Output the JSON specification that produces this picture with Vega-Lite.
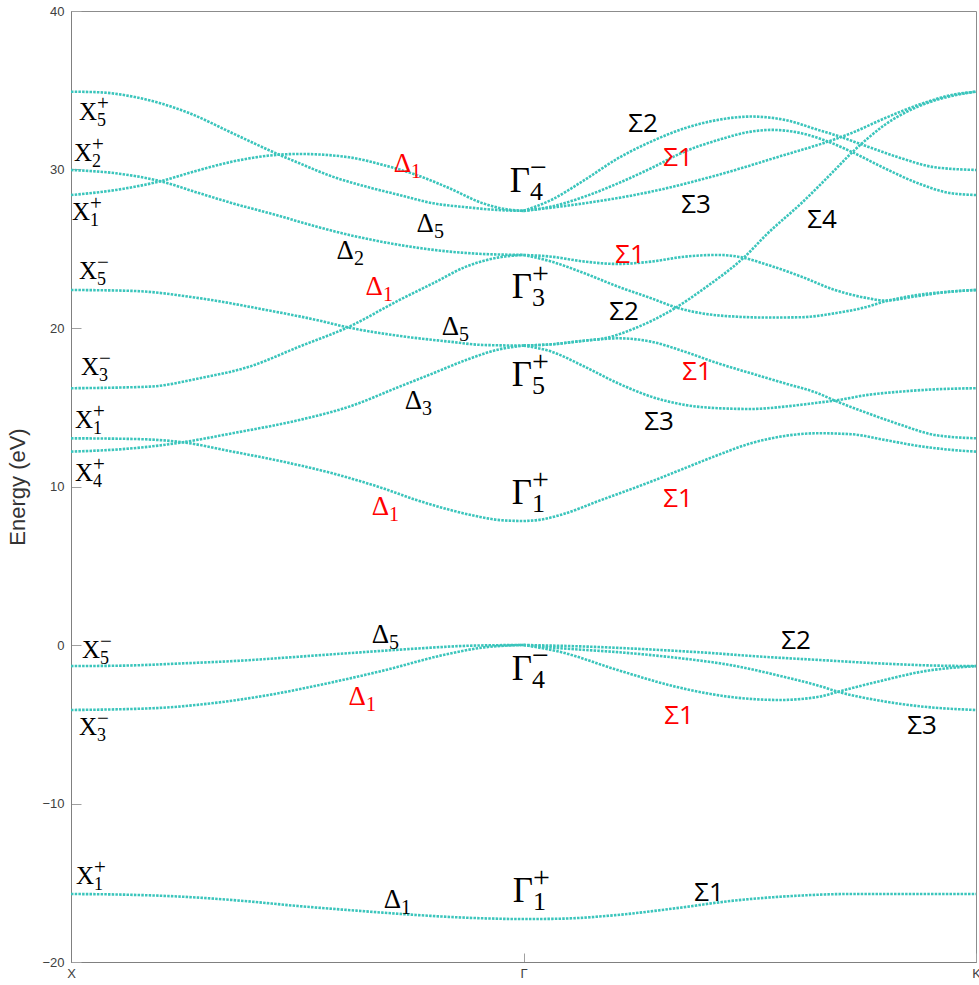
{
  "$schema": "https://vega.github.io/schema/vega-lite/v6.json",
  "width": 905,
  "height": 951,
  "autosize": {"type": "none"},
  "padding": {"left": 71, "top": 11, "right": 3, "bottom": 23},
  "background": "white",
  "config": {"view": {"stroke": "#8c8c8c", "strokeWidth": 1}},
  "datasets": {
    "bands": [
      {"b":"A","k":0,"E":34.91},{"b":"A","k":0.063,"E":34.87},{"b":"A","k":0.136,"E":34.6},{"b":"A","k":0.195,"E":34.2},{"b":"A","k":0.262,"E":33.55},{"b":"A","k":0.357,"E":32.29},{"b":"A","k":0.453,"E":31.02},{"b":"A","k":0.505,"E":30.39},{"b":"A","k":0.578,"E":29.55},{"b":"A","k":0.652,"E":28.92},{"b":"A","k":0.726,"E":28.39},{"b":"A","k":0.8,"E":27.87},{"b":"A","k":0.873,"E":27.62},{"b":"A","k":0.94,"E":27.45},{"b":"A","k":1,"E":27.39},
      {"b":"B","k":0,"E":28.39},{"b":"B","k":0.0995,"E":28.71},{"b":"B","k":0.195,"E":29.24},{"b":"B","k":0.284,"E":29.97},{"b":"B","k":0.357,"E":30.5},{"b":"B","k":0.453,"E":30.92},{"b":"B","k":0.505,"E":30.98},{"b":"B","k":0.615,"E":30.77},{"b":"B","k":0.689,"E":30.29},{"b":"B","k":0.763,"E":29.66},{"b":"B","k":0.836,"E":28.82},{"b":"B","k":0.91,"E":27.87},{"b":"B","k":0.96,"E":27.5},{"b":"B","k":1,"E":27.39},
      {"b":"C","k":0,"E":29.97},{"b":"C","k":0.0995,"E":29.76},{"b":"C","k":0.195,"E":29.28},{"b":"C","k":0.284,"E":28.5},{"b":"C","k":0.357,"E":27.87},{"b":"C","k":0.453,"E":27.13},{"b":"C","k":0.542,"E":26.4},{"b":"C","k":0.615,"E":25.87},{"b":"C","k":0.726,"E":25.24},{"b":"C","k":0.836,"E":24.82},{"b":"C","k":0.91,"E":24.67},{"b":"C","k":1,"E":24.61},
      {"b":"D","k":0,"E":22.4},{"b":"D","k":0.136,"E":22.34},{"b":"D","k":0.284,"E":21.88},{"b":"D","k":0.431,"E":21.14},{"b":"D","k":0.542,"E":20.51},{"b":"D","k":0.615,"E":20.02},{"b":"D","k":0.726,"E":19.5},{"b":"D","k":0.836,"E":19.14},{"b":"D","k":0.91,"E":18.93},{"b":"D","k":1,"E":18.89},
      {"b":"E","k":0,"E":16.2},{"b":"E","k":0.173,"E":16.3},{"b":"E","k":0.284,"E":16.83},{"b":"E","k":0.394,"E":17.56},{"b":"E","k":0.505,"E":18.83},{"b":"E","k":0.615,"E":20.09},{"b":"E","k":0.726,"E":21.77},{"b":"E","k":0.8,"E":22.82},{"b":"E","k":0.873,"E":23.87},{"b":"E","k":0.947,"E":24.46},{"b":"E","k":1,"E":24.61},
      {"b":"F","k":0,"E":13.04},{"b":"F","k":0.136,"E":13.0},{"b":"F","k":0.247,"E":12.79},{"b":"F","k":0.357,"E":12.2},{"b":"F","k":0.468,"E":11.57},{"b":"F","k":0.578,"E":10.83},{"b":"F","k":0.689,"E":9.89},{"b":"F","k":0.763,"E":9.15},{"b":"F","k":0.838,"E":8.52},{"b":"F","k":0.904,"E":8.08},{"b":"F","k":0.948,"E":7.88},{"b":"F","k":1,"E":7.82},
      {"b":"G","k":0,"E":12.2},{"b":"G","k":0.136,"E":12.41},{"b":"G","k":0.247,"E":12.79},{"b":"G","k":0.357,"E":13.36},{"b":"G","k":0.505,"E":14.2},{"b":"G","k":0.615,"E":15.04},{"b":"G","k":0.726,"E":16.3},{"b":"G","k":0.8,"E":17.14},{"b":"G","k":0.873,"E":17.98},{"b":"G","k":0.947,"E":18.66},{"b":"G","k":1,"E":18.89},
      {"b":"V1","k":0,"E":-1.33},{"b":"V1","k":0.117,"E":-1.3},{"b":"V1","k":0.246,"E":-1.16},{"b":"V1","k":0.374,"E":-0.99},{"b":"V1","k":0.502,"E":-0.74},{"b":"V1","k":0.631,"E":-0.48},{"b":"V1","k":0.761,"E":-0.23},{"b":"V1","k":0.887,"E":-0.04},{"b":"V1","k":1,"E":0},
      {"b":"V2","k":0,"E":-4.1},{"b":"V2","k":0.181,"E":-3.99},{"b":"V2","k":0.31,"E":-3.68},{"b":"V2","k":0.438,"E":-3.15},{"b":"V2","k":0.566,"E":-2.42},{"b":"V2","k":0.695,"E":-1.58},{"b":"V2","k":0.823,"E":-0.63},{"b":"V2","k":0.913,"E":-0.15},{"b":"V2","k":1,"E":0},
      {"b":"L","k":0,"E":-15.71},{"b":"L","k":0.117,"E":-15.75},{"b":"L","k":0.246,"E":-15.88},{"b":"L","k":0.374,"E":-16.13},{"b":"L","k":0.502,"E":-16.47},{"b":"L","k":0.631,"E":-16.76},{"b":"L","k":0.761,"E":-17.03},{"b":"L","k":0.887,"E":-17.22},{"b":"L","k":1,"E":-17.29},{"b":"L","k":1.079,"E":-17.27},{"b":"L","k":1.208,"E":-17.03},{"b":"L","k":1.336,"E":-16.61},{"b":"L","k":1.464,"E":-16.13},{"b":"L","k":1.592,"E":-15.84},{"b":"L","k":1.72,"E":-15.71},{"b":"L","k":1.849,"E":-15.71},{"b":"L","k":2,"E":-15.71},
      {"b":"R1","k":1,"E":27.39},{"b":"R1","k":1.0615,"E":28.08},{"b":"R1","k":1.135,"E":29.34},{"b":"R1","k":1.209,"E":30.71},{"b":"R1","k":1.282,"E":31.76},{"b":"R1","k":1.356,"E":32.6},{"b":"R1","k":1.43,"E":33.13},{"b":"R1","k":1.503,"E":33.34},{"b":"R1","k":1.577,"E":33.13},{"b":"R1","k":1.651,"E":32.5},{"b":"R1","k":1.688,"E":32.18},{"b":"R1","k":1.761,"E":31.44},{"b":"R1","k":1.835,"E":30.71},{"b":"R1","k":1.909,"E":30.14},{"b":"R1","k":2,"E":29.97},
      {"b":"R2","k":1,"E":27.39},{"b":"R2","k":1.0615,"E":27.66},{"b":"R2","k":1.135,"E":28.29},{"b":"R2","k":1.209,"E":29.13},{"b":"R2","k":1.282,"E":30.08},{"b":"R2","k":1.356,"E":31.13},{"b":"R2","k":1.43,"E":31.86},{"b":"R2","k":1.503,"E":32.39},{"b":"R2","k":1.548,"E":32.5},{"b":"R2","k":1.614,"E":32.29},{"b":"R2","k":1.673,"E":31.76},{"b":"R2","k":1.724,"E":31.13},{"b":"R2","k":1.798,"E":30.08},{"b":"R2","k":1.872,"E":29.13},{"b":"R2","k":1.946,"E":28.5},{"b":"R2","k":2,"E":28.39},
      {"b":"R3","k":1,"E":27.39},{"b":"R3","k":1.135,"E":27.87},{"b":"R3","k":1.282,"E":28.6},{"b":"R3","k":1.43,"E":29.66},{"b":"R3","k":1.577,"E":30.92},{"b":"R3","k":1.673,"E":31.76},{"b":"R3","k":1.724,"E":32.29},{"b":"R3","k":1.798,"E":33.23},{"b":"R3","k":1.872,"E":34.07},{"b":"R3","k":1.946,"E":34.7},{"b":"R3","k":2,"E":34.91},
      {"b":"R4","k":1,"E":18.89},{"b":"R4","k":1.0615,"E":18.97},{"b":"R4","k":1.135,"E":19.2},{"b":"R4","k":1.179,"E":19.35},{"b":"R4","k":1.246,"E":19.98},{"b":"R4","k":1.334,"E":21.24},{"b":"R4","k":1.4,"E":22.51},{"b":"R4","k":1.489,"E":24.5},{"b":"R4","k":1.54,"E":25.98},{"b":"R4","k":1.614,"E":27.87},{"b":"R4","k":1.688,"E":29.97},{"b":"R4","k":1.724,"E":31.02},{"b":"R4","k":1.761,"E":31.97},{"b":"R4","k":1.798,"E":32.81},{"b":"R4","k":1.872,"E":33.97},{"b":"R4","k":1.946,"E":34.64},{"b":"R4","k":2,"E":34.91},
      {"b":"R5","k":1,"E":18.89},{"b":"R5","k":1.0615,"E":18.97},{"b":"R5","k":1.135,"E":19.2},{"b":"R5","k":1.209,"E":19.35},{"b":"R5","k":1.282,"E":19.14},{"b":"R5","k":1.356,"E":18.51},{"b":"R5","k":1.43,"E":17.77},{"b":"R5","k":1.503,"E":17.14},{"b":"R5","k":1.577,"E":16.51},{"b":"R5","k":1.651,"E":15.88},{"b":"R5","k":1.688,"E":15.42},{"b":"R5","k":1.761,"E":14.62},{"b":"R5","k":1.835,"E":13.88},{"b":"R5","k":1.909,"E":13.25},{"b":"R5","k":2,"E":13.04},
      {"b":"R6","k":1,"E":18.89},{"b":"R6","k":1.0615,"E":18.51},{"b":"R6","k":1.135,"E":17.56},{"b":"R6","k":1.209,"E":16.51},{"b":"R6","k":1.282,"E":15.67},{"b":"R6","k":1.356,"E":15.15},{"b":"R6","k":1.43,"E":14.94},{"b":"R6","k":1.503,"E":14.89},{"b":"R6","k":1.577,"E":15.04},{"b":"R6","k":1.651,"E":15.29},{"b":"R6","k":1.688,"E":15.42},{"b":"R6","k":1.761,"E":15.78},{"b":"R6","k":1.835,"E":15.99},{"b":"R6","k":1.909,"E":16.13},{"b":"R6","k":2,"E":16.2},
      {"b":"R7","k":1,"E":24.61},{"b":"R7","k":1.0615,"E":24.5},{"b":"R7","k":1.135,"E":24.19},{"b":"R7","k":1.209,"E":24.04},{"b":"R7","k":1.282,"E":24.19},{"b":"R7","k":1.356,"E":24.5},{"b":"R7","k":1.43,"E":24.61},{"b":"R7","k":1.474,"E":24.5},{"b":"R7","k":1.54,"E":23.98},{"b":"R7","k":1.614,"E":23.24},{"b":"R7","k":1.688,"E":22.4},{"b":"R7","k":1.761,"E":21.88},{"b":"R7","k":1.798,"E":21.73},{"b":"R7","k":1.872,"E":22.02},{"b":"R7","k":1.946,"E":22.3},{"b":"R7","k":2,"E":22.4},
      {"b":"R8","k":1,"E":24.61},{"b":"R8","k":1.0615,"E":24.19},{"b":"R8","k":1.135,"E":23.45},{"b":"R8","k":1.209,"E":22.61},{"b":"R8","k":1.282,"E":21.88},{"b":"R8","k":1.338,"E":21.29},{"b":"R8","k":1.393,"E":20.93},{"b":"R8","k":1.467,"E":20.72},{"b":"R8","k":1.54,"E":20.66},{"b":"R8","k":1.614,"E":20.68},{"b":"R8","k":1.688,"E":20.93},{"b":"R8","k":1.761,"E":21.35},{"b":"R8","k":1.798,"E":21.67},{"b":"R8","k":1.872,"E":22.09},{"b":"R8","k":1.946,"E":22.3},{"b":"R8","k":2,"E":22.4},
      {"b":"R9","k":1,"E":7.82},{"b":"R9","k":1.04,"E":7.92},{"b":"R9","k":1.081,"E":8.2},{"b":"R9","k":1.172,"E":9.15},{"b":"R9","k":1.282,"E":10.31},{"b":"R9","k":1.356,"E":11.15},{"b":"R9","k":1.43,"E":11.99},{"b":"R9","k":1.503,"E":12.73},{"b":"R9","k":1.577,"E":13.19},{"b":"R9","k":1.651,"E":13.36},{"b":"R9","k":1.724,"E":13.3},{"b":"R9","k":1.798,"E":12.94},{"b":"R9","k":1.872,"E":12.56},{"b":"R9","k":1.946,"E":12.31},{"b":"R9","k":2,"E":12.2},
      {"b":"V3","k":1,"E":0},{"b":"V3","k":1.144,"E":-0.105},{"b":"V3","k":1.272,"E":-0.27},{"b":"V3","k":1.4,"E":-0.48},{"b":"V3","k":1.528,"E":-0.74},{"b":"V3","k":1.656,"E":-0.95},{"b":"V3","k":1.785,"E":-1.16},{"b":"V3","k":1.913,"E":-1.3},{"b":"V3","k":2,"E":-1.33},
      {"b":"V4","k":1,"E":0},{"b":"V4","k":1.079,"E":-0.2},{"b":"V4","k":1.208,"E":-0.45},{"b":"V4","k":1.336,"E":-0.8},{"b":"V4","k":1.464,"E":-1.3},{"b":"V4","k":1.567,"E":-1.95},{"b":"V4","k":1.656,"E":-2.6},{"b":"V4","k":1.695,"E":-2.95},{"b":"V4","k":1.785,"E":-3.5},{"b":"V4","k":1.887,"E":-3.9},{"b":"V4","k":2,"E":-4.1},
      {"b":"V5","k":1,"E":0},{"b":"V5","k":1.079,"E":-0.42},{"b":"V5","k":1.208,"E":-1.58},{"b":"V5","k":1.336,"E":-2.63},{"b":"V5","k":1.464,"E":-3.3},{"b":"V5","k":1.567,"E":-3.47},{"b":"V5","k":1.656,"E":-3.25},{"b":"V5","k":1.695,"E":-2.95},{"b":"V5","k":1.785,"E":-2.3},{"b":"V5","k":1.887,"E":-1.65},{"b":"V5","k":2,"E":-1.33}
    ],
    "labels": [
      {"t":"X","base":"X","sub":"5","sup":"+","k":0.0575,"E":33.63,"hl":"n"},
      {"t":"X","base":"X","sub":"2","sup":"+","k":0.0464,"E":31.04,"hl":"n"},
      {"t":"X","base":"X","sub":"1","sup":"+","k":0.042,"E":27.35,"hl":"n"},
      {"t":"X","base":"X","sub":"5","sup":"−","k":0.0575,"E":23.6,"hl":"n"},
      {"t":"X","base":"X","sub":"3","sup":"−","k":0.0619,"E":17.54,"hl":"n"},
      {"t":"X","base":"X","sub":"1","sup":"+","k":0.0486,"E":14.2,"hl":"n"},
      {"t":"X","base":"X","sub":"4","sup":"+","k":0.0486,"E":10.85,"hl":"n"},
      {"t":"X","base":"X","sub":"5","sup":"−","k":0.0641,"E":-0.32,"hl":"n"},
      {"t":"X","base":"X","sub":"3","sup":"−","k":0.0575,"E":-5.17,"hl":"n"},
      {"t":"X","base":"X","sub":"1","sup":"+","k":0.0508,"E":-14.57,"hl":"n"},
      {"t":"G","base":"Γ","sub":"4","sup":"−","k":1.0144,"E":29.27,"hl":"n"},
      {"t":"G","base":"Γ","sub":"3","sup":"+","k":1.0188,"E":22.59,"hl":"n"},
      {"t":"G","base":"Γ","sub":"5","sup":"+","k":1.0188,"E":17.03,"hl":"n"},
      {"t":"G","base":"Γ","sub":"1","sup":"+","k":1.0188,"E":9.59,"hl":"n"},
      {"t":"G","base":"Γ","sub":"4","sup":"−","k":1.0188,"E":-1.5,"hl":"n"},
      {"t":"G","base":"Γ","sub":"1","sup":"+","k":1.021,"E":-15.52,"hl":"n"},
      {"t":"D","base":"Δ","sub":"1","sup":"","k":0.7514,"E":30.35,"hl":"y"},
      {"t":"D","base":"Δ","sub":"5","sup":"","k":0.8022,"E":26.56,"hl":"n"},
      {"t":"D","base":"Δ","sub":"2","sup":"","k":0.6254,"E":24.86,"hl":"n"},
      {"t":"D","base":"Δ","sub":"1","sup":"","k":0.6895,"E":22.59,"hl":"y"},
      {"t":"D","base":"Δ","sub":"5","sup":"","k":0.8575,"E":20.06,"hl":"n"},
      {"t":"D","base":"Δ","sub":"3","sup":"","k":0.7757,"E":15.39,"hl":"n"},
      {"t":"D","base":"Δ","sub":"1","sup":"","k":0.7028,"E":8.71,"hl":"y"},
      {"t":"D","base":"Δ","sub":"5","sup":"","k":0.7028,"E":0.63,"hl":"n"},
      {"t":"D","base":"Δ","sub":"1","sup":"","k":0.6519,"E":-3.28,"hl":"y"},
      {"t":"D","base":"Δ","sub":"1","sup":"","k":0.7293,"E":-16.09,"hl":"n"},
      {"t":"S","base":"Σ2","sub":"","sup":"","k":1.2641,"E":32.87,"hl":"n"},
      {"t":"S","base":"Σ1","sub":"","sup":"","k":1.3414,"E":30.73,"hl":"y"},
      {"t":"S","base":"Σ3","sub":"","sup":"","k":1.3812,"E":27.76,"hl":"n"},
      {"t":"S","base":"Σ4","sub":"","sup":"","k":1.6597,"E":26.81,"hl":"n"},
      {"t":"S","base":"Σ1","sub":"","sup":"","k":1.2354,"E":24.61,"hl":"y"},
      {"t":"S","base":"Σ2","sub":"","sup":"","k":1.2221,"E":21.01,"hl":"n"},
      {"t":"S","base":"Σ1","sub":"","sup":"","k":1.3834,"E":17.22,"hl":"y"},
      {"t":"S","base":"Σ3","sub":"","sup":"","k":1.2994,"E":14.07,"hl":"n"},
      {"t":"S","base":"Σ1","sub":"","sup":"","k":1.3414,"E":9.21,"hl":"y"},
      {"t":"S","base":"Σ2","sub":"","sup":"","k":1.6022,"E":0.25,"hl":"n"},
      {"t":"S","base":"Σ1","sub":"","sup":"","k":1.3436,"E":-4.48,"hl":"y"},
      {"t":"S","base":"Σ3","sub":"","sup":"","k":1.8807,"E":-5.11,"hl":"n"},
      {"t":"S","base":"Σ1","sub":"","sup":"","k":1.4099,"E":-15.65,"hl":"n"}
    ]
  },
  "layer": [
    {
      "data": {"name": "bands"},
      "mark": {"type": "line", "interpolate": "monotone", "color": "#3bc5bc", "strokeWidth": 2.6, "strokeDash": [2.5, 1.2]},
      "encoding": {
        "x": {"field": "k", "type": "quantitative", "scale": {"domain": [0, 2], "nice": false, "zero": false},
          "axis": {"values": [0, 1, 2], "labelExpr": "datum.value == 0 ? 'X' : datum.value == 1 ? 'Γ' : 'K'", "title": null, "grid": false,
            "domainColor": "#808080", "tickColor": "#a0a0a0", "tickSize": -9, "labelPadding": 14, "labelFont": "Liberation Sans", "labelFontSize": 13, "labelColor": "#404040", "labelFlush": false}},
        "y": {"field": "E", "type": "quantitative", "scale": {"domain": [-20, 40], "nice": false, "zero": false},
          "axis": {"values": [-20, -10, 0, 10, 20, 30, 40], "title": "Energy (eV)", "grid": false,
            "domainColor": "#808080", "tickColor": "#a0a0a0", "tickSize": -10, "labelPadding": 17, "labelFont": "Liberation Sans", "labelFontSize": 13, "labelColor": "#404040", "labelFlush": false,
            "titleFont": "Liberation Sans", "titleFontSize": 22, "titleFontWeight": "normal", "titleColor": "#333333", "titlePadding": 12}},
        "detail": {"field": "b", "type": "nominal"}
      }
    },
    {
      "data": {"name": "labels"},
      "transform": [{"filter": "datum.t == 'X'"}],
      "mark": {"type": "text", "align": "right", "baseline": "middle", "font": "Liberation Serif", "fontSize": 25, "color": "#000000"},
      "encoding": {"x": {"field": "k", "type": "quantitative"}, "y": {"field": "E", "type": "quantitative"}, "text": {"field": "base"}}
    },
    {
      "data": {"name": "labels"},
      "transform": [{"filter": "datum.t == 'X'"}],
      "mark": {"type": "text", "align": "left", "baseline": "middle", "font": "Liberation Serif", "fontSize": 18, "color": "#000000", "dx": 0, "dy": 9},
      "encoding": {"x": {"field": "k", "type": "quantitative"}, "y": {"field": "E", "type": "quantitative"}, "text": {"field": "sub"}}
    },
    {
      "data": {"name": "labels"},
      "transform": [{"filter": "datum.t == 'X'"}],
      "mark": {"type": "text", "align": "left", "baseline": "middle", "font": "Liberation Serif", "fontSize": 21, "color": "#000000", "dx": 0, "dy": -8},
      "encoding": {"x": {"field": "k", "type": "quantitative"}, "y": {"field": "E", "type": "quantitative"}, "text": {"field": "sup"}}
    },
    {
      "data": {"name": "labels"},
      "transform": [{"filter": "datum.t == 'G'"}],
      "mark": {"type": "text", "align": "right", "baseline": "middle", "font": "Liberation Serif", "fontSize": 35, "color": "#000000"},
      "encoding": {"x": {"field": "k", "type": "quantitative"}, "y": {"field": "E", "type": "quantitative"}, "text": {"field": "base"}}
    },
    {
      "data": {"name": "labels"},
      "transform": [{"filter": "datum.t == 'G'"}],
      "mark": {"type": "text", "align": "left", "baseline": "middle", "font": "Liberation Serif", "fontSize": 26, "color": "#000000", "dx": 0, "dy": 11},
      "encoding": {"x": {"field": "k", "type": "quantitative"}, "y": {"field": "E", "type": "quantitative"}, "text": {"field": "sub"}}
    },
    {
      "data": {"name": "labels"},
      "transform": [{"filter": "datum.t == 'G'"}],
      "mark": {"type": "text", "align": "left", "baseline": "middle", "font": "Liberation Serif", "fontSize": 30, "color": "#000000", "dx": 0, "dy": -13},
      "encoding": {"x": {"field": "k", "type": "quantitative"}, "y": {"field": "E", "type": "quantitative"}, "text": {"field": "sup"}}
    },
    {
      "data": {"name": "labels"},
      "transform": [{"filter": "datum.t == 'D'"}],
      "mark": {"type": "text", "align": "right", "baseline": "middle", "font": "Liberation Serif", "fontSize": 27},
      "encoding": {"x": {"field": "k", "type": "quantitative"}, "y": {"field": "E", "type": "quantitative"}, "text": {"field": "base"},
        "color": {"field": "hl", "type": "nominal", "scale": {"domain": ["n", "y"], "range": ["#000000", "#ff0000"]}, "legend": null}}
    },
    {
      "data": {"name": "labels"},
      "transform": [{"filter": "datum.t == 'D'"}],
      "mark": {"type": "text", "align": "left", "baseline": "middle", "font": "Liberation Serif", "fontSize": 20, "dx": 0, "dy": 8},
      "encoding": {"x": {"field": "k", "type": "quantitative"}, "y": {"field": "E", "type": "quantitative"}, "text": {"field": "sub"},
        "color": {"field": "hl", "type": "nominal", "scale": {"domain": ["n", "y"], "range": ["#000000", "#ff0000"]}, "legend": null}}
    },
    {
      "data": {"name": "labels"},
      "transform": [{"filter": "datum.t == 'S'"}],
      "mark": {"type": "text", "align": "center", "baseline": "middle", "font": "Open Sans", "fontSize": 26},
      "encoding": {"x": {"field": "k", "type": "quantitative"}, "y": {"field": "E", "type": "quantitative"}, "text": {"field": "base"},
        "color": {"field": "hl", "type": "nominal", "scale": {"domain": ["n", "y"], "range": ["#000000", "#ff0000"]}, "legend": null}}
    }
  ]
}
